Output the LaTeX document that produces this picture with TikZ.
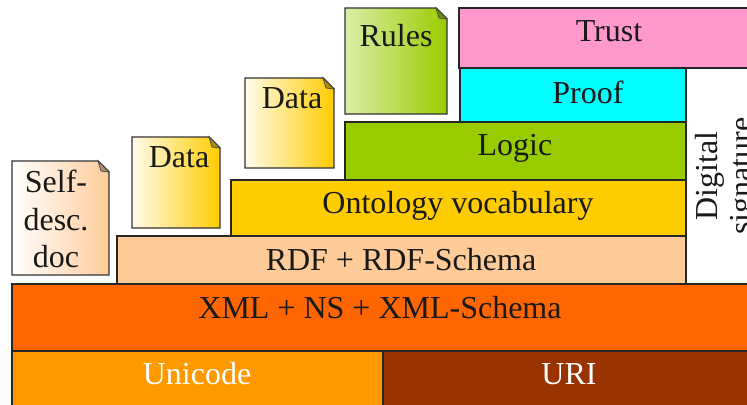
\documentclass[tikz,border=0pt]{standalone}
\usepackage{fontspec}
\setmainfont{Liberation Serif}

\definecolor{trustpink}{HTML}{FF99CC}
\definecolor{proofcyan}{HTML}{00FFFF}
\definecolor{logicgreen}{HTML}{99CC00}
\definecolor{ontoyellow}{HTML}{FFCC00}
\definecolor{rdfpeach}{HTML}{FFCC99}
\definecolor{xmlorange}{HTML}{FF6600}
\definecolor{uniorange}{HTML}{FF9900}
\definecolor{uribrown}{HTML}{993300}

\tikzset{
    layerbox/.style={draw=black!85, line width=1.1pt},
    notebox/.style={draw=black!80, line width=1.1pt},
    foldbox/.style={draw=black!70, line width=0.6pt},
    label/.style={text=black!90, font=\fontsize{24}{28}\selectfont, inner sep=0pt, align=center}
}

\begin{document}
\begin{tikzpicture}[x=0.75pt, y=-0.75pt]
        \useasboundingbox (0, 0) rectangle (747, 404);

        % Signature column
        \draw[layerbox, fill=white] (686, 68) rectangle (760, 284);
        \node[label, rotate=90, font=\fontsize{24}{26}\selectfont] (signature) at (727, 176) {Digital\\signature};

        % Layers
        \foreach \name/\xa/\ya/\xb/\yb/\col/\tx/\ty/\txt in {
            trust/459/8/760/68/trustpink/609/31/Trust,
            proof/460/68/686/122/proofcyan/588/92/Proof,
            logic/345/122/686/180/logicgreen/515/148/Logic,
            onto/231/180/686/236/ontoyellow/458/206/Ontology vocabulary,
            rdf/117/236/686/284/rdfpeach/401/260/RDF + RDF-Schema,
            xml/12/284/760/351/xmlorange/384/308/XML + NS + XML-Schema
        } {
            \draw[layerbox, fill=\col] (\xa, \ya) rectangle (\xb, \yb);
            \node[label] (\name) at (\tx, \ty) {\txt};
        }

        % Bottom row
        \draw[layerbox, fill=uniorange] (12, 351) rectangle (383, 410);
        \draw[layerbox, fill=uribrown] (383, 351) rectangle (760, 410);
        \node[label, text=white] (unicode) at (197, 374) {Unicode};
        \node[label, text=white] (uri) at (569, 374) {URI};

        % Notes with folded corner
        \foreach \name/\xa/\ya/\xb/\yb/\cola/\colc/\colb/\tx/\ty/\txt in {
            selfdoc/12/161/109/275/white/rdfpeach!55/rdfpeach/56/219/{Self-\\desc.\\doc},
            dataone/132/137/220/228/ontoyellow!8/ontoyellow!30/ontoyellow/179/157/Data,
            datatwo/245/78/334/168/ontoyellow!8/ontoyellow!30/ontoyellow/292/98/Data,
            rules/345/8/447/114/logicgreen!35/logicgreen!45/logicgreen/400/36/Rules
        } {
            \draw[notebox, left color=\cola, middle color=\colc, right color=\colb] (\xa, \ya) -- (\xb-11, \ya) -- (\xb, \ya+11) -- (\xb, \yb) -- (\xa, \yb) -- cycle;
            \draw[foldbox, fill=\colb!70!black] (\xb-11, \ya) -- (\xb, \ya+11) -- (\xb-8, \ya+10) -- cycle;
            \node[label] (\name) at (\tx, \ty) {\txt};
        }
    \end{tikzpicture}
\end{document}
